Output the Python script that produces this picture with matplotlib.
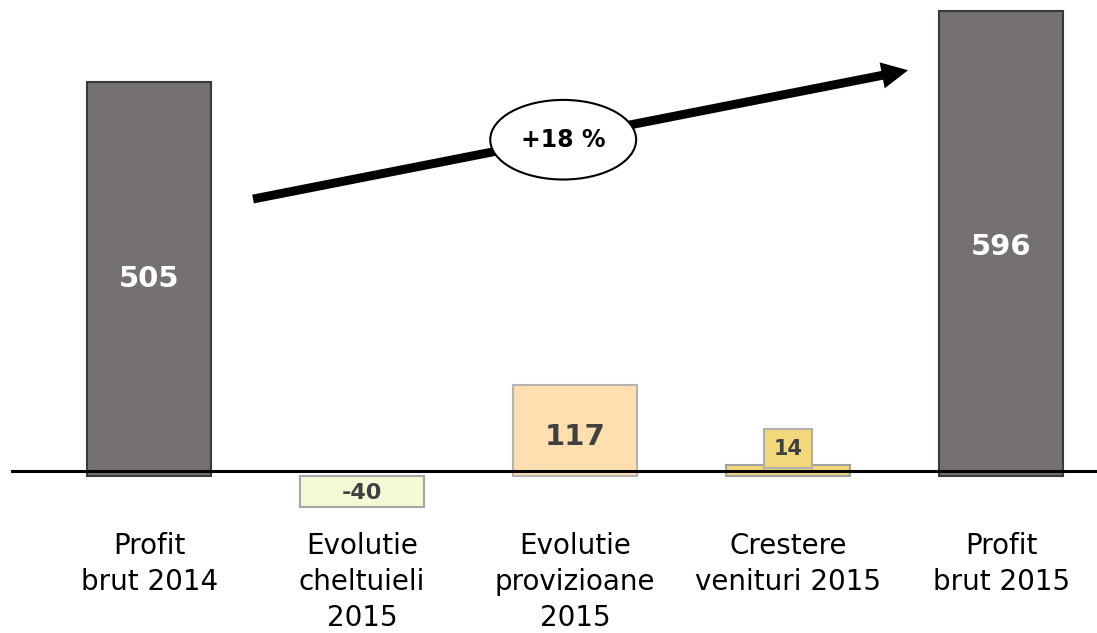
import matplotlib.pyplot as plt
from matplotlib.patches import Ellipse

# Donnees du graphique
categories = ['Profit\nbrut 2014', 'Evolutie\ncheltuieli\n2015', 'Evolutie\nprovizioane\n2015',
              'Crestere\nvenituri 2015', 'Profit\nbrut 2015']
values = [505, -40, 117, 14, 596]
labels = ['505', '-40', '117', '14', '596']
growth_label = '+18 %'

colors = ['#767171', '#F5F9D5', '#FFDEAF', '#F2D87A', '#767171']
edges = ['#3a3a3a', '#a6a6a6', '#b4b4b4', '#a0a0a0', '#3a3a3a']

fig = plt.figure(figsize=(10.97, 6.33), dpi=100)
ax = fig.add_axes([0, 0, 1, 1])
ax.set_xlim(-0.70, 4.45)
ax.set_ylim(-201, 610)
ax.axis('off')

x = list(range(len(values)))
ax.bar(x, values, width=0.58, color=colors, edgecolor=edges, linewidth=1.5, zorder=2)

# Ligne de base
ax.plot([-0.643, 4.45], [6.4, 6.4], color='black', lw=2.2, zorder=3)

# Etiquettes des valeurs
ax.text(x[0], 252, labels[0], ha='center', va='center', color='white',
        fontsize=21, fontweight='bold', zorder=4)
ax.text(x[4], 293, labels[4], ha='center', va='center', color='white',
        fontsize=21, fontweight='bold', zorder=4)
ax.text(x[2], 50, labels[2], ha='center', va='center', color='#404040',
        fontsize=21, fontweight='bold', zorder=4)
ax.text(x[1], -22, labels[1], ha='center', va='center', color='#404040',
        fontsize=16, fontweight='bold', zorder=4)
ax.text(x[3], 35, labels[3], ha='center', va='center', color='#404040',
        fontsize=15, fontweight='bold', zorder=4,
        bbox=dict(boxstyle='square,pad=0.45', facecolor='#F2D87A', edgecolor='#b0b0b0', lw=1.5))

# Etiquettes des categories
for xi, cat in zip(x, categories):
    ax.text(xi, -71, cat, ha='center', va='top', fontsize=20, color='black', linespacing=1.38)

# Fleche de croissance
ax.annotate('', xy=(3.563, 520), xytext=(0.488, 355),
            arrowprops=dict(arrowstyle='simple,head_length=0.95,head_width=0.95,tail_width=0.32',
                            fc='black', ec='black', lw=0, mutation_scale=20,
                            shrinkA=0, shrinkB=0), zorder=5)
ax.add_patch(Ellipse((1.944, 431), 0.685, 102, facecolor='white', edgecolor='black', lw=1.5, zorder=6))
ax.text(1.944, 431, growth_label, ha='center', va='center', fontsize=17, fontweight='bold', zorder=7)

fig.savefig('out.png', dpi=100)
